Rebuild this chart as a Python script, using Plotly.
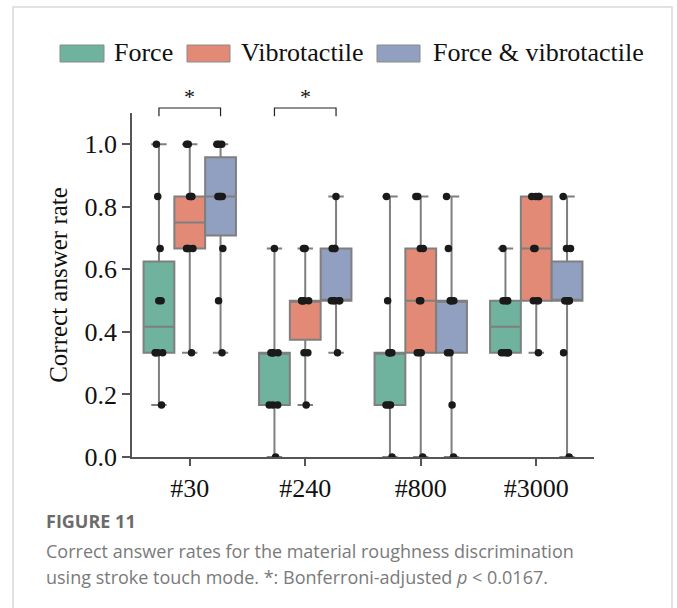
import numpy as np
import plotly.graph_objects as go

# ---------------- data ----------------
categories = ["#30", "#240", "#800", "#3000"]
groups = ["Force", "Vibrotactile", "Force & vibrotactile"]

# correct answer rates (in sixths) per participant, n = 10
force_sixths = [
    [1, 2, 2, 2, 2, 3, 3, 4, 5, 6],
    [0, 1, 1, 1, 2, 2, 2, 2, 2, 4],
    [0, 1, 1, 1, 2, 2, 2, 2, 3, 5],
    [2, 2, 2, 2, 2, 3, 3, 3, 3, 4],
]
vibro_sixths = [
    [2, 4, 4, 4, 4, 5, 5, 5, 6, 6],
    [1, 2, 2, 3, 3, 3, 3, 3, 4, 4],
    [0, 2, 2, 2, 3, 3, 4, 4, 5, 5],
    [2, 3, 3, 3, 4, 4, 5, 5, 5, 5],
]
both_sixths = [
    [2, 3, 4, 5, 5, 5, 5, 6, 6, 6],
    [2, 3, 3, 3, 3, 3, 4, 4, 4, 5],
    [0, 1, 2, 2, 3, 3, 3, 3, 4, 5],
    [0, 2, 3, 3, 3, 3, 3, 4, 4, 5],
]
series = [force_sixths, vibro_sixths, both_sixths]

fill_colors = ["#6fb29d", "#e28a76", "#919fc0"]
edge_color = "#7f7f7f"

ytick_vals = [0.0, 0.2, 0.4, 0.6, 0.8, 1.0]
significant = [("#30", 0, 2), ("#240", 0, 2)]  # category, from group, to group

caption_title = "FIGURE 11"
caption_lines = [
    "Correct answer rates for the material roughness discrimination",
    "using stroke touch mode. *: Bonferroni-adjusted <i>p</i> &lt; 0.0167.",
]

# ---------------- layout constants (pixels) ----------------
W, H = 677, 608
L, R, T, B = 132, 594, 113, 457
YMAX = 1.1
SERIF = "Liberation Serif"


def px(x):
    return (x - L) / (R - L)


def py(y):
    return (B - y) / (B - T)


fig = go.Figure()

for gi, (name, data) in enumerate(zip(groups, series)):
    vals = [np.array(d) / 6.0 for d in data]
    q1 = [float(np.percentile(v, 25)) for v in vals]
    med = [float(np.percentile(v, 50)) for v in vals]
    q3 = [float(np.percentile(v, 75)) for v in vals]
    lo = [float(v.min()) for v in vals]
    hi = [float(v.max()) for v in vals]
    fig.add_trace(go.Box(
        name=name,
        x=categories,
        q1=q1, median=med, q3=q3, lowerfence=lo, upperfence=hi,
        y=[list(v) for v in vals],
        boxpoints="all", jitter=0.35, pointpos=0,
        marker=dict(color="#1a1a1a", size=7.5),
        fillcolor=fill_colors[gi],
        line=dict(color=edge_color, width=2),
        whiskerwidth=0.5,
        showlegend=False,
        hoverinfo="skip",
    ))

shapes = []
annotations = []

# significance brackets
box_w = 0.8 / 3
for cat, g0, g1 in significant:
    ci = categories.index(cat)
    xa = ci + (g0 - 1) * box_w
    xb = ci + (g1 - 1) * box_w
    ytop = 1.116 / YMAX
    ybot = 1.090 / YMAX
    shapes.append(dict(type="path", xref="x", yref="paper",
                       path=f"M {xa} {ybot} L {xa} {ytop} L {xb} {ytop} L {xb} {ybot}",
                       line=dict(color="#222", width=1.2)))
    annotations.append(dict(x=ci + (g0 + g1 - 2) / 2 * box_w, y=1.152 / YMAX,
                            xref="x", yref="paper", text="*", showarrow=False,
                            font=dict(family=SERIF, size=22, color="#111"),
                            xanchor="center", yanchor="middle"))

# manual legend (wide rectangles)
legend_rects = [(60, 104, 112), (187, 230, 239), (377, 420, 431)]
for (x0, x1, xt), name, col in zip(legend_rects, groups, fill_colors):
    shapes.append(dict(type="rect", xref="paper", yref="paper",
                       x0=px(x0), x1=px(x1), y0=py(62), y1=py(45),
                       fillcolor=col, line=dict(color="#8a8a8a", width=1)))
    annotations.append(dict(x=px(xt), y=py(53), xref="paper", yref="paper",
                            text=name, showarrow=False, xanchor="left", yanchor="middle",
                            font=dict(family=SERIF, size=26, color="#111")))

# outer frame
shapes.append(dict(type="rect", xref="paper", yref="paper",
                   x0=px(13), x1=px(672), y0=py(630), y1=py(7),
                   line=dict(color="#d9d9d9", width=1.5), fillcolor="rgba(0,0,0,0)",
                   layer="below"))

# caption
annotations.append(dict(x=px(44), y=py(521), xref="paper", yref="paper",
                        text="<b>" + caption_title + "</b>", showarrow=False,
                        xanchor="left", yanchor="middle",
                        font=dict(family="Open Sans", size=18, color="#6b6b6b")))
for i, line in enumerate(caption_lines):
    annotations.append(dict(x=px(44), y=py(551 + 26 * i), xref="paper", yref="paper",
                            text=line, showarrow=False, xanchor="left", yanchor="middle",
                            font=dict(family="Open Sans", size=18, color="#7a7a7a")))

fig.update_layout(
    width=W, height=H,
    margin=dict(l=L, r=W - R, t=T, b=H - B, pad=0),
    paper_bgcolor="white", plot_bgcolor="white",
    boxmode="group", boxgap=0.2, boxgroupgap=0.0,
    showlegend=False,
    shapes=shapes, annotations=annotations,
    font=dict(family=SERIF, size=26, color="#111"),
)
fig.update_xaxes(
    type="category", categoryorder="array", categoryarray=categories,
    range=[-0.5, 3.5], showline=True, linecolor="#555", linewidth=1.5,
    ticks="outside", ticklen=7, tickwidth=1.5, tickcolor="#555",
    showgrid=False, zeroline=False,
    tickfont=dict(family=SERIF, size=26, color="#111"),
)
fig.update_yaxes(
    range=[0, YMAX], tickvals=ytick_vals, tickformat=".1f",
    showline=True, linecolor="#555", linewidth=1.5,
    ticks="outside", ticklen=8, tickwidth=1.5, tickcolor="#555",
    showgrid=False, zeroline=False,
    tickfont=dict(family=SERIF, size=26, color="#111"),
    title=dict(text="Correct answer rate", font=dict(family=SERIF, size=25, color="#111"),
               standoff=10),
)

fig.write_html("out.html", config={"displayModeBar": False},
               post_script="document.body.style.margin='0px';")
